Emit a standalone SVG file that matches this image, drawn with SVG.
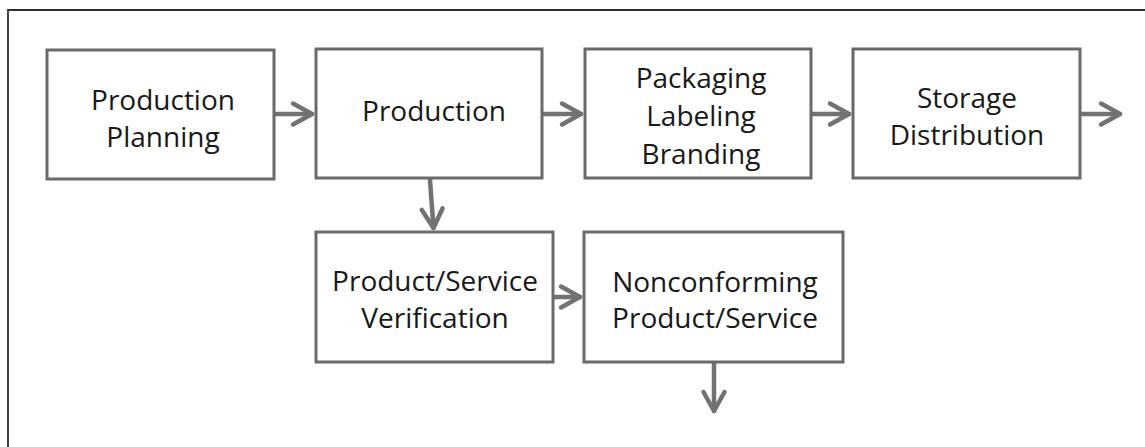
<svg xmlns="http://www.w3.org/2000/svg" width="1145" height="447" viewBox="0 0 1145 447">
  <style>
    .box { fill: #ffffff; stroke: #6a6a6a; stroke-width: 3; }
    .lbl { font-family: "Open Sans", "Liberation Sans", sans-serif; font-size: 28px; fill: #181818; text-anchor: middle; }
    .flow { fill: none; stroke: #727272; stroke-width: 4.5; stroke-linecap: round; }
    .frame { fill: none; stroke: #2e2e2e; stroke-width: 1.8; }
  </style>
  <defs>
    <marker id="chev" viewBox="-26 -16 30 32" markerWidth="30" markerHeight="32" refX="0" refY="0" orient="auto" markerUnits="userSpaceOnUse">
      <path d="M-19,-10.5 L0,0 L-19,10.5" fill="none" stroke="#727272" stroke-width="4.5" stroke-linecap="round" stroke-linejoin="round"/>
    </marker>
  </defs>

  <rect width="1145" height="447" fill="#ffffff"/>
  <!-- page frame: top and left edges only -->
  <path class="frame" d="M8,447 L8,10 L1145,10"/>

  <g id="connectors">
    <line class="flow" x1="275" y1="114" x2="312" y2="114" marker-end="url(#chev)"/>
    <line class="flow" x1="543" y1="114" x2="581" y2="114" marker-end="url(#chev)"/>
    <line class="flow" x1="812" y1="114" x2="849" y2="114" marker-end="url(#chev)"/>
    <line class="flow" x1="1081" y1="114" x2="1120" y2="114" marker-end="url(#chev)"/>
    <line class="flow" x1="430" y1="180" x2="433.5" y2="228" marker-end="url(#chev)"/>
    <line class="flow" x1="554" y1="297" x2="580" y2="297" marker-end="url(#chev)"/>
    <line class="flow" x1="714" y1="363" x2="714" y2="411" marker-end="url(#chev)"/>
  </g>

  <g id="production-planning">
    <rect class="box" x="47" y="50" width="227" height="129"/>
    <text class="lbl" x="163" y="110">Production</text>
    <text class="lbl" x="163" y="147">Planning</text>
  </g>

  <g id="production">
    <rect class="box" x="316" y="49" width="226" height="129"/>
    <text class="lbl" x="434" y="121">Production</text>
  </g>

  <g id="packaging">
    <rect class="box" x="585" y="49" width="226" height="129"/>
    <text class="lbl" x="701" y="88">Packaging</text>
    <text class="lbl" x="701" y="126">Labeling</text>
    <text class="lbl" x="701" y="164">Branding</text>
  </g>

  <g id="storage-distribution">
    <rect class="box" x="853" y="49" width="227" height="129"/>
    <text class="lbl" x="967" y="108">Storage</text>
    <text class="lbl" x="967" y="145">Distribution</text>
  </g>

  <g id="verification">
    <rect class="box" x="316" y="232" width="237" height="130"/>
    <text class="lbl" x="435" y="291">Product/Service</text>
    <text class="lbl" x="435" y="328">Verification</text>
  </g>

  <g id="nonconforming">
    <rect class="box" x="584" y="232" width="259" height="130"/>
    <text class="lbl" x="715" y="292">Nonconforming</text>
    <text class="lbl" x="715" y="328">Product/Service</text>
  </g>
</svg>
